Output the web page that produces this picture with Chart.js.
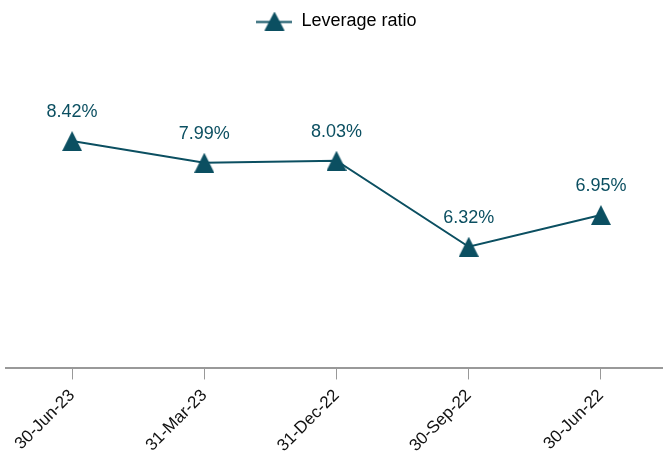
<!DOCTYPE html>
<html>
<head>
<meta charset="utf-8">
<script src="https://cdn.jsdelivr.net/npm/chart.js@4"></script>
<style>
	html, body { margin: 0; padding: 0; background: #fff; overflow: hidden; }
	#wrap { width: 667px; height: 462px; }
</style>
</head>
<body>
<div id="wrap"><canvas id="chartLeverage" width="667" height="462"></canvas></div>
<script>
'use strict'

const periods = ['30-Jun-23', '31-Mar-23', '31-Dec-22', '30-Sep-22', '30-Jun-22'];
const leverageRatio = [8.42, 7.99, 8.03, 6.32, 6.95];
const seriesName = 'Leverage ratio';

const teal = '#0b4f61';
const fontFamily = '"Liberation Sans", Arial, sans-serif';

// triangle marker, apex up, centred on its box
function makeTriangle(w, h, lineLen) {
	const cv = document.createElement('canvas');
	cv.width = lineLen || w;
	cv.height = h;
	const c = cv.getContext('2d');
	const mid = cv.width / 2;
	if (lineLen) {
		c.strokeStyle = teal;
		c.lineWidth = 2;
		c.beginPath();
		c.moveTo(0, h / 2 + 1);
		c.lineTo(lineLen, h / 2 + 1);
		c.stroke();
	}
	c.fillStyle = teal;
	c.beginPath();
	c.moveTo(mid, 0);
	c.lineTo(mid + w / 2, h);
	c.lineTo(mid - w / 2, h);
	c.closePath();
	c.fill();
	return cv;
}

const pointIcon = makeTriangle(20, 20);
const legendIcon = makeTriangle(20, 19, 36);

const valueLabels = {
	id: 'valueLabels',
	afterDatasetsDraw(chart) {
		const { ctx } = chart;
		ctx.save();
		ctx.font = '18px ' + fontFamily;
		ctx.fillStyle = teal;
		ctx.textAlign = 'center';
		ctx.textBaseline = 'middle';
		chart.getDatasetMeta(0).data.forEach((pt, i) => {
			ctx.fillText(leverageRatio[i].toFixed(2) + '%', pt.x, pt.y - 29);
		});
		ctx.restore();
	},
};

new Chart(document.getElementById('chartLeverage'), {
	type: 'line',
	data: {
		labels: periods,
		datasets: [
			{
				label: seriesName,
				data: leverageRatio,
				borderColor: teal,
				backgroundColor: teal,
				borderWidth: 2,
				pointStyle: pointIcon,
				pointRadius: 10,
				pointHoverRadius: 10,
				tension: 0,
			},
		],
	},
	options: {
		responsive: false,
		animation: false,
		layout: {
			autoPadding: false,
			padding: { left: 6, right: 0, top: 0, bottom: 0 },
		},
		plugins: {
			tooltip: { enabled: false },
			legend: {
				display: true,
				position: 'top',
				labels: {
					usePointStyle: true,
					pointStyleWidth: 36,
					color: '#111',
					font: { family: fontFamily, size: 18 },
					padding: 12,
					generateLabels() {
						return [{
							text: seriesName,
							pointStyle: legendIcon,
							fillStyle: teal,
							strokeStyle: teal,
							lineWidth: 0,
							datasetIndex: 0,
						}];
					},
				},
			},
		},
		scales: {
			x: {
				offset: true,
				afterFit(scale) {
					scale.paddingLeft = 0;
					scale.paddingRight = 0;
				},
				grid: {
					display: true,
					drawOnChartArea: false,
					drawTicks: true,
					tickLength: 11,
					color: '#999',
					offset: false,
				},
				border: { display: true, color: '#999', width: 2 },
				ticks: {
					color: '#111',
					font: { family: fontFamily, size: 17 },
					minRotation: 45,
					maxRotation: 45,
					padding: 6,
				},
			},
			y: {
				min: 3.9,
				max: 10.43,
				display: false,
			},
		},
	},
	plugins: [valueLabels],
});
</script>
</body>
</html>
